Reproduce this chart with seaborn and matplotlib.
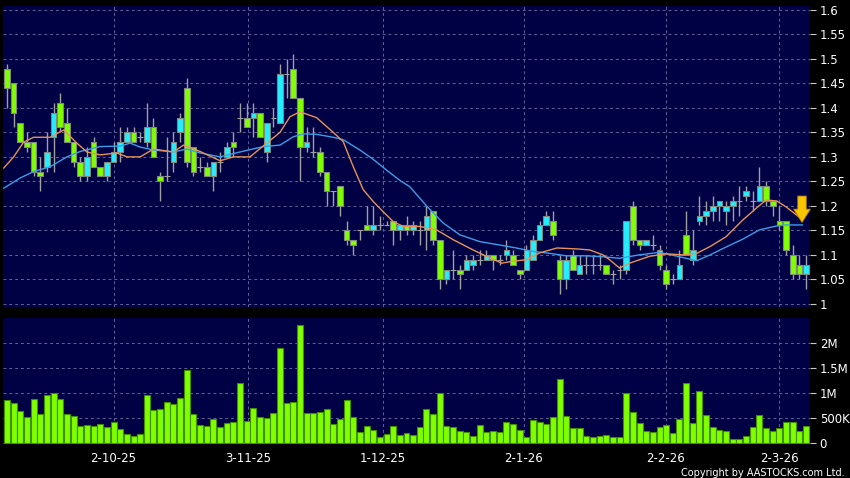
import numpy as np
import pandas as pd
import matplotlib
matplotlib.use("Agg")
import matplotlib.pyplot as plt
import seaborn as sns

# ---------------- data ----------------
open_ = [1.48,1.45,1.37,1.33,1.33,1.27,1.28,1.34,1.41,1.37,
         1.33,1.29,1.26,1.33,1.28,1.26,1.29,1.31,1.33,1.35,
         1.34,1.33,1.36,1.26,1.26,1.29,1.35,1.44,1.32,1.28,
         1.28,1.26,1.29,1.30,1.33,1.38,1.38,1.38,1.39,1.31,
         1.38,1.37,1.47,1.48,1.42,1.32,1.31,1.31,1.27,1.23,
         1.24,1.15,1.13,1.15,1.16,1.15,1.16,1.16,1.17,1.15,
         1.16,1.15,1.15,1.15,1.19,1.13,1.05,1.07,1.07,1.07,
         1.08,1.09,1.09,1.10,1.09,1.10,1.10,1.07,1.07,1.09,
         1.13,1.16,1.17,1.09,1.05,1.10,1.06,1.08,1.08,1.08,
         1.08,1.06,1.07,1.07,1.20,1.13,1.12,1.12,1.11,1.07,
         1.05,1.05,1.14,1.09,1.17,1.18,1.19,1.20,1.19,1.20,
         1.21,1.22,1.21,1.21,1.24,1.21,1.17,1.17,1.10,1.08,
         1.06]
high = [1.49,1.45,1.37,1.35,1.33,1.30,1.35,1.41,1.43,1.40,
        1.33,1.30,1.32,1.34,1.28,1.29,1.33,1.36,1.36,1.36,
        1.35,1.41,1.38,1.27,1.34,1.35,1.39,1.46,1.32,1.30,
        1.29,1.29,1.31,1.33,1.35,1.41,1.41,1.41,1.39,1.37,
        1.40,1.49,1.50,1.51,1.42,1.36,1.36,1.32,1.27,1.23,
        1.24,1.17,1.13,1.15,1.20,1.20,1.18,1.17,1.17,1.16,
        1.18,1.17,1.17,1.20,1.19,1.13,1.07,1.11,1.08,1.10,
        1.10,1.11,1.11,1.10,1.10,1.13,1.11,1.07,1.12,1.14,
        1.17,1.19,1.19,1.10,1.10,1.11,1.10,1.10,1.10,1.10,
        1.08,1.07,1.08,1.17,1.21,1.13,1.13,1.14,1.12,1.08,
        1.06,1.11,1.19,1.15,1.22,1.21,1.22,1.21,1.21,1.22,
        1.24,1.24,1.23,1.28,1.25,1.21,1.20,1.17,1.12,1.10,
        1.10]
low = [1.40,1.36,1.33,1.31,1.26,1.23,1.27,1.27,1.35,1.33,
       1.28,1.25,1.25,1.28,1.26,1.25,1.29,1.29,1.33,1.33,
       1.33,1.32,1.30,1.21,1.25,1.27,1.33,1.28,1.26,1.27,
       1.26,1.23,1.27,1.30,1.30,1.35,1.36,1.34,1.34,1.29,
       1.36,1.37,1.42,1.42,1.25,1.31,1.30,1.26,1.20,1.20,
       1.18,1.12,1.10,1.13,1.15,1.14,1.15,1.16,1.12,1.13,
       1.14,1.14,1.12,1.11,1.12,1.03,1.04,1.05,1.03,1.07,
       1.07,1.08,1.09,1.07,1.08,1.09,1.08,1.05,1.07,1.09,
       1.13,1.16,1.13,1.02,1.03,1.07,1.06,1.06,1.06,1.07,
       1.06,1.04,1.05,1.06,1.12,1.11,1.12,1.11,1.07,1.03,
       1.04,1.05,1.10,1.08,1.16,1.16,1.17,1.17,1.16,1.17,
       1.18,1.21,1.19,1.21,1.20,1.18,1.15,1.10,1.05,1.05,
       1.03]
close = [1.44,1.39,1.33,1.32,1.27,1.26,1.31,1.39,1.36,1.33,
         1.29,1.26,1.30,1.28,1.26,1.29,1.31,1.33,1.35,1.33,
         1.34,1.36,1.30,1.25,1.26,1.33,1.38,1.29,1.27,1.28,
         1.26,1.29,1.29,1.32,1.32,1.38,1.36,1.39,1.34,1.37,
         1.38,1.47,1.47,1.42,1.32,1.33,1.31,1.27,1.23,1.23,
         1.20,1.13,1.12,1.15,1.15,1.16,1.16,1.16,1.15,1.16,
         1.15,1.16,1.15,1.18,1.13,1.05,1.07,1.07,1.06,1.09,
         1.09,1.09,1.10,1.09,1.09,1.11,1.08,1.06,1.11,1.13,
         1.16,1.18,1.14,1.05,1.09,1.07,1.08,1.08,1.08,1.08,
         1.06,1.06,1.07,1.17,1.13,1.12,1.13,1.12,1.08,1.04,
         1.05,1.08,1.10,1.11,1.18,1.19,1.20,1.21,1.20,1.21,
         1.21,1.23,1.21,1.24,1.21,1.20,1.16,1.11,1.06,1.06,
         1.08]
volume_m = [0.86,0.80,0.64,0.52,0.88,0.58,0.96,0.99,0.89,0.58,
            0.54,0.35,0.36,0.35,0.38,0.33,0.43,0.28,0.19,0.15,
            0.18,0.96,0.66,0.68,0.82,0.78,0.91,1.45,0.59,0.36,
            0.35,0.48,0.32,0.40,0.43,1.19,0.45,0.71,0.53,0.50,
            0.60,1.89,0.80,0.82,2.35,0.60,0.60,0.62,0.68,0.38,
            0.48,0.86,0.53,0.22,0.35,0.27,0.13,0.18,0.35,0.17,
            0.20,0.16,0.33,0.68,0.59,0.99,0.35,0.32,0.25,0.22,
            0.15,0.36,0.22,0.25,0.23,0.43,0.38,0.26,0.12,0.46,
            0.42,0.38,0.52,1.28,0.55,0.31,0.31,0.15,0.13,0.15,
            0.17,0.13,0.13,0.99,0.62,0.41,0.25,0.23,0.33,0.36,
            0.20,0.49,1.19,0.40,1.03,0.56,0.32,0.27,0.25,0.09,
            0.09,0.15,0.33,0.56,0.30,0.25,0.31,0.43,0.43,0.25,
            0.34]

# moving averages (bar position, value)
ma10_pos = [-0.5,1,2.5,4,6.5,8.5,10.5,12,14,16.5,18,20,22,25,26.5,29,32,34,36.5,
            39,41,42.5,44,46.5,49,50.5,52,53.5,55,56.5,58,59.5,62,64.5,67,70,72,
            74.3,76,78,80,82.6,85.6,87.5,89.5,90.5,92,93.5,96.5,99,101.5,103.6,
            105.6,108,110.5,112.6,114,115.6,117,118.6,119.5]
ma10_val = [1.277,1.300,1.330,1.340,1.340,1.355,1.328,1.310,1.304,1.308,1.300,1.300,
            1.316,1.310,1.324,1.311,1.292,1.300,1.300,1.328,1.350,1.382,1.392,1.380,
            1.350,1.331,1.280,1.233,1.209,1.188,1.168,1.158,1.158,1.151,1.131,1.110,
            1.097,1.083,1.087,1.090,1.104,1.114,1.112,1.110,1.100,1.090,1.073,1.083,
            1.097,1.102,1.100,1.103,1.117,1.137,1.171,1.196,1.212,1.210,1.198,1.181,
            1.171]
ma20_pos = [-0.5,2,4,6.5,9,11,14,17,18.5,20,22,25,27,29,32,35,38.5,41,43,44.5,46.5,
            49,50.5,53,55,57,59,60.5,63,65.5,68,71,74,76.5,79,81.5,84,87,89.5,92,
            95,98,101,103.6,105.6,108,110.5,113,115.6,117,119.5]
ma20_val = [1.236,1.257,1.270,1.280,1.300,1.311,1.321,1.322,1.328,1.320,1.314,1.310,
            1.316,1.308,1.300,1.310,1.321,1.324,1.341,1.347,1.346,1.340,1.335,1.314,
            1.295,1.273,1.252,1.239,1.200,1.165,1.141,1.127,1.120,1.114,1.107,1.103,
            1.098,1.098,1.096,1.093,1.100,1.105,1.096,1.088,1.100,1.116,1.132,1.151,
            1.159,1.161,1.161]

date_pos = [16, 36.2, 56.5, 77.6, 98.9, 116]
date_labels = ["2-10-25", "3-11-25", "1-12-25", "2-1-26", "2-2-26", "2-3-26"]
price_ticks = [1.0, 1.05, 1.1, 1.15, 1.2, 1.25, 1.3, 1.35, 1.4, 1.45, 1.5, 1.55, 1.6]
vol_ticks = [0, 0.5, 1.0, 1.5, 2.0]
vol_tick_labels = ["0", "500K", "1M", "1.5M", "2M"]
copyright_text = "Copyright by AASTOCKS.com Ltd."

# ---------------- styling ----------------
sns.set_theme(style="dark")
plt.rcParams["font.family"] = ["DejaVu Sans"]

NAVY = "#000044"
GRID = "#60609a"
UP = "#22EEFF"
DOWN = "#80FF00"
WICK = "#a0a0a0"

W, H = 850, 478
fig = plt.figure(figsize=(W / 100, H / 100), dpi=100, facecolor="black")

def rect(x0, y0, x1, y1):
    return [x0 / W, 1 - y1 / H, (x1 - x0) / W, (y1 - y0) / H]

ax1 = fig.add_axes(rect(3, 6, 810, 307))
ax2 = fig.add_axes(rect(3, 318, 810, 444))

df = pd.DataFrame({"i": np.arange(len(close)), "open": open_, "high": high,
                   "low": low, "close": close, "vol": volume_m})

# ---------------- price panel ----------------
ax1.set_facecolor(NAVY)
ax1.vlines(df["i"], df["low"], df["high"], color=WICK, lw=1.0, zorder=2)
body_bottom = np.minimum(df["open"], df["close"])
body_h = np.abs(df["close"] - df["open"])
colors = np.where(df["close"] > df["open"], UP,
                  np.where(df["close"] < df["open"], DOWN, WICK))
edges = np.where(df["close"] == df["open"], WICK, "#7f8a7f")
ax1.bar(df["i"], body_h, bottom=body_bottom, width=0.85, color=colors,
        edgecolor=edges, linewidth=0.8, zorder=3)

sns.lineplot(x=ma20_pos, y=ma20_val, ax=ax1, color="#3c9ee6", lw=1.0, zorder=4,
             sort=False)
sns.lineplot(x=ma10_pos, y=ma10_val, ax=ax1, color="#e89258", lw=1.0, zorder=5,
             sort=False)

ax1.annotate("", xy=(119.4, 1.166), xytext=(119.4, 1.220),
             arrowprops=dict(arrowstyle="simple,head_width=0.75,head_length=0.6,tail_width=0.38",
                             fc="#f7c600", ec="#b88400", lw=0.6, mutation_scale=16,
                             shrinkA=0, shrinkB=0),
             zorder=6)

ax1.set_xlim(-0.6, 120.6)
ax1.set_ylim(0.9935, 1.608)
ax1.set_yticks(price_ticks)
ax1.set_yticklabels([f"{t:g}" for t in price_ticks])
ax1.set_xticks(date_pos)
ax1.set_xticklabels([])
ax1.yaxis.tick_right()
ax1.tick_params(axis="y", colors="#c8c8c8", labelcolor="white", length=4, width=0.8,
                pad=3, labelsize=8.5, direction="out", right=True, left=False)
ax1.tick_params(axis="x", length=0, bottom=False)
ax1.grid(True, axis="both", color=GRID, ls=(0, (3, 3)), lw=0.7)
ax1.set_xlabel("")
ax1.set_ylabel("")
for s in ax1.spines.values():
    s.set_visible(False)

# ---------------- volume panel ----------------
ax2.set_facecolor(NAVY)
sns.barplot(data=df, x="i", y="vol", native_scale=True, ax=ax2, color=DOWN,
            saturation=1, width=0.9, errorbar=None, edgecolor="#3f8f00",
            linewidth=0.8, zorder=3)
ax2.set_xlim(-0.6, 120.6)
ax2.set_ylim(-0.014, 2.49)
ax2.set_yticks(vol_ticks)
ax2.set_yticklabels(vol_tick_labels)
ax2.set_xticks(date_pos)
ax2.set_xticklabels(date_labels)
ax2.yaxis.tick_right()
ax2.tick_params(axis="y", colors="#c8c8c8", labelcolor="white", length=4, width=0.8,
                pad=3, labelsize=8.5, direction="out", right=True, left=False)
ax2.tick_params(axis="x", colors="#c8c8c8", labelcolor="white", length=3, width=0.8,
                pad=3, labelsize=8.5, direction="out")
ax2.grid(True, axis="both", color=GRID, ls=(0, (3, 3)), lw=0.7)
ax2.set_axisbelow(True)
ax1.set_axisbelow(True)
ax2.set_xlabel("")
ax2.set_ylabel("")
for s in ax2.spines.values():
    s.set_visible(False)

fig.text(845 / W, 1 - 477.5 / H, copyright_text, ha="right", va="bottom",
         color="white", fontsize=7)

fig.savefig("out.png", dpi=100, facecolor="black")
